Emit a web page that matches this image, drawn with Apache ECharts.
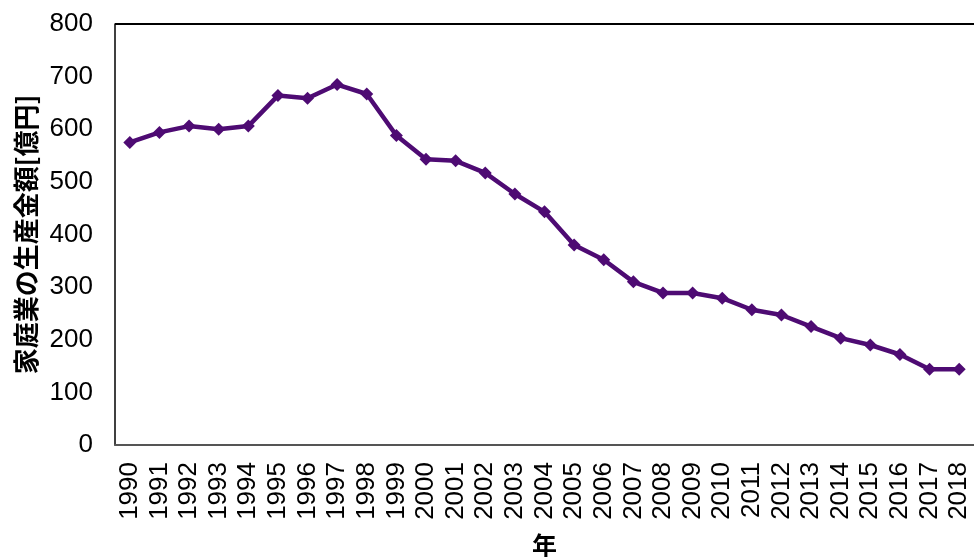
<!DOCTYPE html>
<html>
<head>
<meta charset="utf-8">
<script src="https://cdn.jsdelivr.net/npm/echarts@6/dist/echarts.min.js"></script>
<style>
  html, body { margin: 0; padding: 0; background: #fff; }
  #chart { width: 974px; height: 557px; }
</style>
</head>
<body>
<div id="chart"></div>
<script>
// Years on the category axis
const years = ['1990','1991','1992','1993','1994','1995','1996','1997','1998','1999',
  '2000','2001','2002','2003','2004','2005','2006','2007','2008','2009',
  '2010','2011','2012','2013','2014','2015','2016','2017','2018'];

// Production value of household medicine (100 million yen)
const productionValue = [575, 594, 606, 600, 606, 664, 659, 685, 667, 588,
  543, 540, 517, 477, 443, 380, 352, 310, 289, 289,
  279, 257, 247, 225, 203, 190, 172, 144, 144];

// Value-axis ticks
const yTicks = [0, 100, 200, 300, 400, 500, 600, 700, 800];

const latin = 'Arial, "Liberation Sans", sans-serif';
const cjk = '"Noto Sans CJK JP", sans-serif';
const lineColor = '#4e0b73';

const chart = echarts.init(document.getElementById('chart'), null, { renderer: 'canvas' });
chart.setOption({
  animation: false,
  backgroundColor: '#ffffff',
  grid: {
    left: 115, right: 0, top: 24, bottom: 112,
    containLabel: false,
    outerBoundsMode: 'none'
  },
  xAxis: {
    type: 'category',
    data: years,
    boundaryGap: true,
    name: '年',
    nameLocation: 'middle',
    nameGap: 88,
    nameTextStyle: { fontFamily: cjk, fontWeight: 'bold', fontSize: 25, color: '#000' },
    axisLine: { show: true, lineStyle: { color: '#555', width: 2 } },
    axisTick: { show: false },
    axisLabel: { rotate: 90, margin: 17, fontFamily: latin, fontSize: 26, color: '#000', interval: 0 },
    splitLine: { show: false }
  },
  yAxis: {
    type: 'value',
    min: yTicks[0],
    max: yTicks[yTicks.length - 1],
    interval: yTicks[1] - yTicks[0],
    name: '家庭業の生産金額[億円]',
    nameLocation: 'middle',
    nameGap: 74,
    nameTextStyle: { fontFamily: cjk, fontWeight: 'bold', fontSize: 26, color: '#000' },
    axisLine: { show: true, lineStyle: { color: '#000', width: 1.5 } },
    axisTick: { show: false },
    axisLabel: { margin: 22, fontFamily: latin, fontSize: 26, color: '#000' },
    splitLine: { show: false }
  },
  series: [{
    type: 'line',
    data: productionValue,
    symbol: 'diamond',
    symbolSize: 13,
    lineStyle: { color: lineColor, width: 4.5 },
    itemStyle: { color: lineColor },
    // top edge of the plot frame, drawn at the axis maximum
    markLine: {
      silent: true,
      symbol: 'none',
      label: { show: false },
      lineStyle: { color: '#000', width: 2, type: 'solid' },
      data: [{ yAxis: yTicks[yTicks.length - 1] }]
    }
  }]
});
</script>
</body>
</html>
